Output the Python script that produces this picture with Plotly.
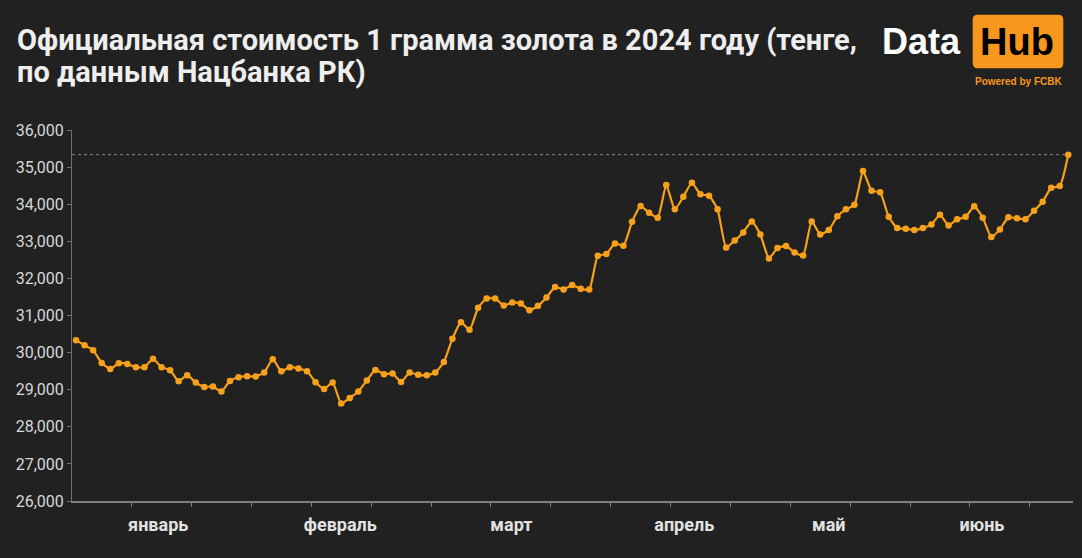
import plotly.graph_objects as go

# Official gold price per gram (KZT), trading days Jan-Jun 2024
price = [
    30335, 30200, 30065, 29723, 29561, 29715, 29696, 29607, 29607, 29831,
    29607, 29526, 29229, 29391, 29194, 29075, 29084, 28951, 29237, 29337,
    29364, 29355, 29464, 29823, 29499, 29607, 29571, 29499, 29202, 29021,
    29194, 28627, 28779, 28951, 29248, 29534, 29418, 29436, 29210, 29464,
    29400, 29391, 29464, 29750, 30370, 30821, 30613, 31207, 31460, 31460,
    31271, 31352, 31325, 31144, 31261, 31487, 31765, 31703, 31819, 31719,
    31703, 32609, 32655, 32944, 32879, 33526, 33950, 33769, 33634, 34516,
    33861, 34201, 34578, 34266, 34228, 33861, 32836, 33020, 33240, 33537,
    33186, 32539, 32817, 32871, 32701, 32620, 33537, 33186, 33303, 33672,
    33861, 33985, 34894, 34363, 34319, 33661, 33356, 33337, 33303, 33356,
    33456, 33715, 33429, 33591, 33661, 33942, 33634, 33114, 33321, 33645,
    33618, 33591, 33823, 34066, 34443, 34489, 35334,
]
months = ["январь", "февраль", "март", "апрель", "май", "июнь"]
month_pos = [9.6, 30.9, 50.9, 71.1, 88.0, 105.9]

title_lines = ["Официальная стоимость 1 грамма золота в 2024 году (тенге,",
               "по данным Нацбанка РК)"]

idx = list(range(len(price)))
BG = "#212121"
ORANGE = "#F7A11A"

fig = go.Figure()
fig.add_trace(go.Scatter(
    x=idx, y=price, mode="lines+markers",
    line=dict(color=ORANGE, width=2.2, shape="spline", smoothing=0.5),
    marker=dict(color=ORANGE, size=6.5),
    hoverinfo="y", showlegend=False,
))

# dotted reference line at the last (max) value
fig.add_shape(type="line", xref="x", yref="y",
              x0=-0.47, x1=idx[-1], y0=price[-1], y1=price[-1],
              line=dict(color="#8a8a8a", width=1, dash="dot"), layer="below")

fig.update_layout(
    width=1082, height=558,
    paper_bgcolor=BG, plot_bgcolor=BG,
    margin=dict(l=72, r=9, t=130, b=57),
    font=dict(family="Roboto, sans-serif", color="#d8d8d8"),
    xaxis=dict(
        range=[-0.47, 116.55], showgrid=False, zeroline=False,
        showline=True, linecolor="#808080", linewidth=2,
        tickmode="array", tickvals=month_pos, ticktext=months, ticks="",
        tickfont=dict(family="Roboto", size=18, color="#e2e2e2", weight="bold"),
        minor=dict(ticks="outside", tick0=6.5, dtick=7, ticklen=4, tickcolor="#808080", tickwidth=1),
        ticklabelstandoff=6,
    ),
    yaxis=dict(
        range=[26000, 36000], dtick=1000, tickformat=",d",
        showgrid=False, zeroline=False,
        showline=True, linecolor="#707070", linewidth=1,
        ticks="outside", ticklen=4, tickcolor="#707070",
        tickfont=dict(family="Roboto", size=16, color="#d8d8d8"),
    ),
)

# Title (two lines)
for i, line in enumerate(title_lines):
    fig.add_annotation(text=line, xref="paper", yref="paper",
                       x=(15 - 72) / 1001, y=(500.7 - (40 + 32 * i)) / 370.7,
                       xanchor="left", yanchor="middle", showarrow=False,
                       font=dict(family="Roboto", size=29, color="#eeeeee", weight="bold"))

# Logo
fig.add_annotation(text="<b>Data</b>", xref="paper", yref="paper",
                   x=(880 - 72) / 1001, y=(500.7 - 42) / 370.7,
                   xanchor="left", yanchor="middle", showarrow=False,
                   font=dict(family="Liberation Sans, Arial", size=36, color="#ffffff"))
fig.add_shape(type="path", xref="paper", yref="paper",
              xsizemode="pixel", ysizemode="pixel",
              xanchor=(1018 - 72) / 1001, yanchor=(500.7 - 41.5) / 370.7,
              path="M -40.3,-26.8 L 40.3,-26.8 Q 45.3,-26.8 45.3,-21.8 L 45.3,21.8 "
                   "Q 45.3,26.8 40.3,26.8 L -40.3,26.8 Q -45.3,26.8 -45.3,21.8 "
                   "L -45.3,-21.8 Q -45.3,-26.8 -40.3,-26.8 Z",
              fillcolor="#F7981D", line=dict(width=0))
fig.add_annotation(text="<b>Hub</b>", xref="paper", yref="paper",
                   x=(1017 - 72) / 1001, y=(500.7 - 42) / 370.7,
                   xanchor="center", yanchor="middle", showarrow=False,
                   font=dict(family="Liberation Sans, Arial", size=38, color="#000000"))
fig.add_annotation(text="<b>Powered by FCBK</b>", xref="paper", yref="paper",
                   x=(1018 - 72) / 1001, y=(500.7 - 81.5) / 370.7,
                   xanchor="center", yanchor="middle", showarrow=False,
                   font=dict(family="Liberation Sans, Arial", size=10, color="#F7981D"))

fig.write_html("out.html", config={"displayModeBar": False},
               post_script="document.body.style.margin='0';document.body.style.background='#212121';")
